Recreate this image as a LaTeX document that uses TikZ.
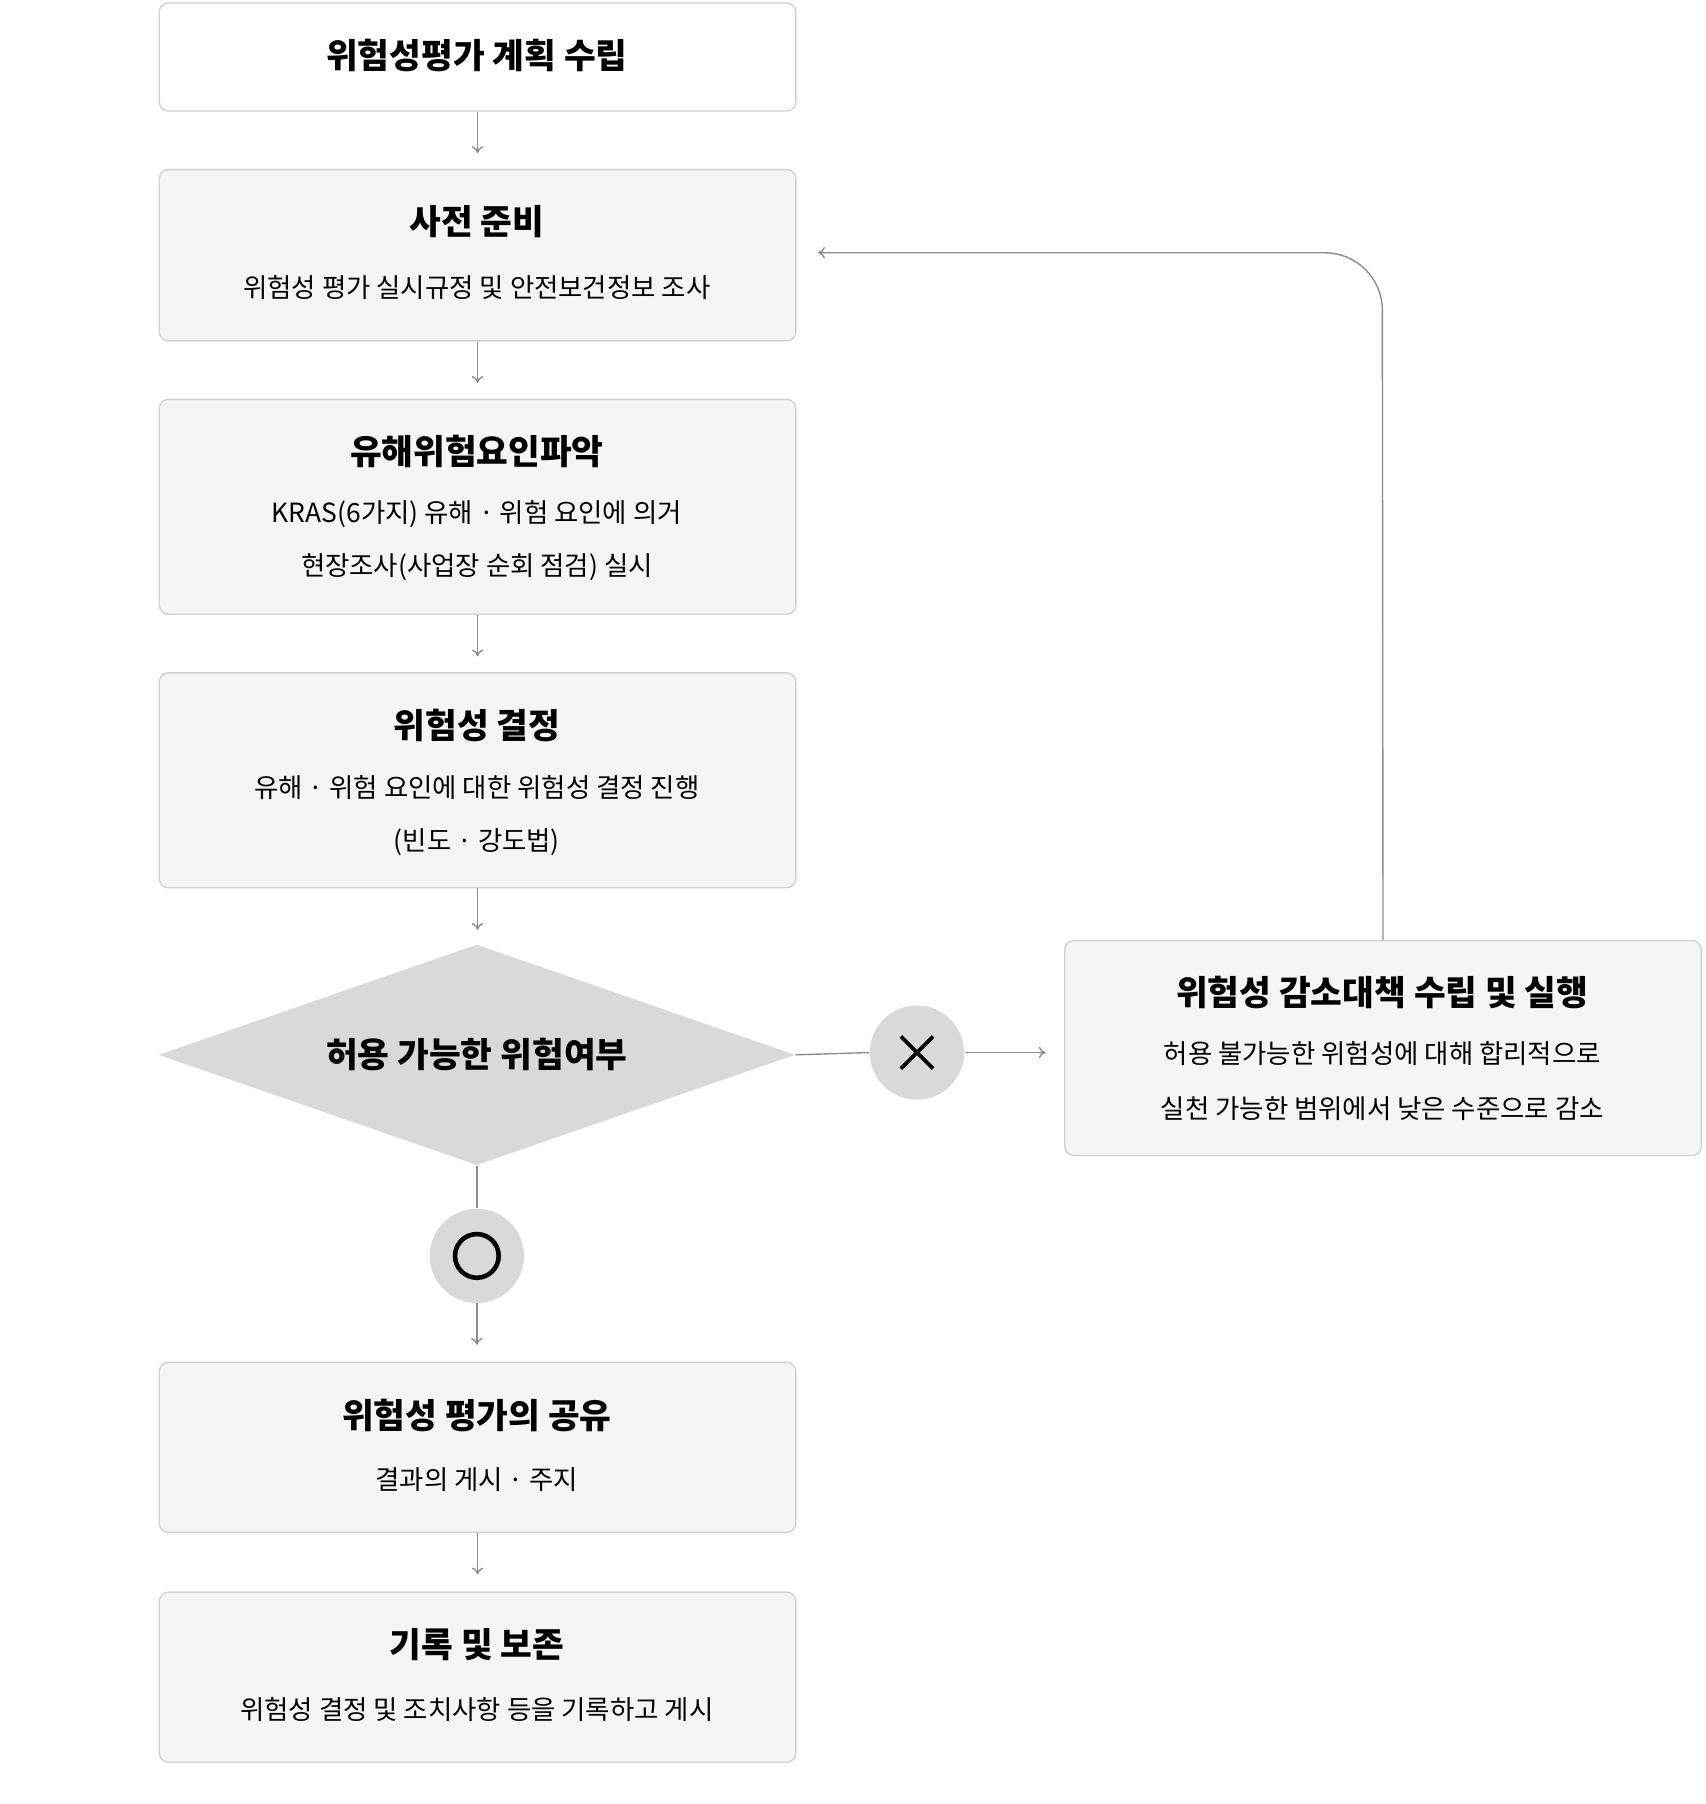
\documentclass[tikz,border=0pt]{standalone}
\usepackage{fontspec}
\setmainfont{Noto Sans CJK KR}
\usetikzlibrary{shapes.geometric,arrows.meta}
\begin{document}
\begin{tikzpicture}[x=0.5pt,y=-0.5pt,
 box/.style={draw=black!18,line width=0.6pt,fill=black!4,rounded corners=4pt,minimum width=277pt,inner sep=0pt,anchor=north west},
 ttl/.style={font=\fontsize{15}{18}\selectfont\bfseries},
 sub/.style={font=\fontsize{11.5}{14}\selectfont},
 arr/.style={draw=black!45,line width=0.6pt,-{To[length=3pt,width=5pt]}},
 ln/.style={draw=black!45,line width=0.6pt},
 circ/.style={circle,fill=black!15,minimum size=41pt,inner sep=0pt}]
\useasboundingbox (0,0) rectangle (1484,1570);
% boxes
\node[box,fill=white,minimum height=47pt] (b1) at (138,2) {};
\node[ttl] at (415,48) {위험성평가 계획 수립};
\node[box,minimum height=74.5pt] (b2) at (138,147) {};
\node[ttl] at (415,193) {사전 준비};
\node[sub] at (415,250) {위험성 평가 실시규정 및 안전보건정보 조사};
\node[box,minimum height=93.5pt] (b3) at (138,347) {};
\node[ttl] at (415,393) {유해위험요인파악};
\node[sub] at (415,447) {KRAS(6가지) 유해 · 위험 요인에 의거};
\node[sub] at (415,494) {현장조사(사업장 순회 점검) 실시};
\node[box,minimum height=93.5pt] (b4) at (138,585) {};
\node[ttl] at (415,631) {위험성 결정};
\node[sub] at (415,685) {유해 · 위험 요인에 대한 위험성 결정 진행};
\node[sub] at (415,733) {(빈도 · 강도법)};
\node[diamond,fill=black!15,minimum width=277pt,minimum height=96pt,inner sep=0pt,aspect=2.9] (d) at (415,918) {};
\node[ttl] at (415,918) {허용 가능한 위험여부};
\node[circ] (cx) at (798,916) {};
\draw[line width=1.6pt] (784,902)--(812,930) (812,902)--(784,930);
\node[box,minimum height=93.5pt] (b5) at (926,818) {};
\node[ttl] at (1203,864) {위험성 감소대책 수립 및 실행};
\node[sub] at (1203,917) {허용 불가능한 위험성에 대해 합리적으로};
\node[sub] at (1203,965) {실천 가능한 범위에서 낮은 수준으로 감소};
\node[circ] (co) at (415,1093) {};
\draw[line width=2pt] (co) circle (19);
\node[box,minimum height=74pt] (b6) at (138,1185) {};
\node[ttl] at (415,1232) {위험성 평가의 공유};
\node[sub] at (415,1288) {결과의 게시 · 주지};
\node[box,minimum height=74pt] (b7) at (138,1385) {};
\node[ttl] at (415,1431) {기록 및 보존};
\node[sub] at (415,1488) {위험성 결정 및 조치사항 등을 기록하고 게시};
% connectors
\draw[arr] (b1.south) -- ++(0,36);
\draw[arr] (b2.south) -- ++(0,36);
\draw[arr] (b3.south) -- ++(0,36);
\draw[arr] (b4.south) -- ++(0,36);
\draw[ln] (d.east) -- (cx.west);
\draw[arr] (cx.east) -- (910,916);
\draw[ln] (d.south) -- (co.north);
\draw[arr] (co.south) -- ++(0,36);
\draw[arr] (b6.south) -- ++(0,36);
\draw[arr,rounded corners=25pt] (b5.north) -- (1203,220) -- (712,220);
\end{tikzpicture}
\end{document}
